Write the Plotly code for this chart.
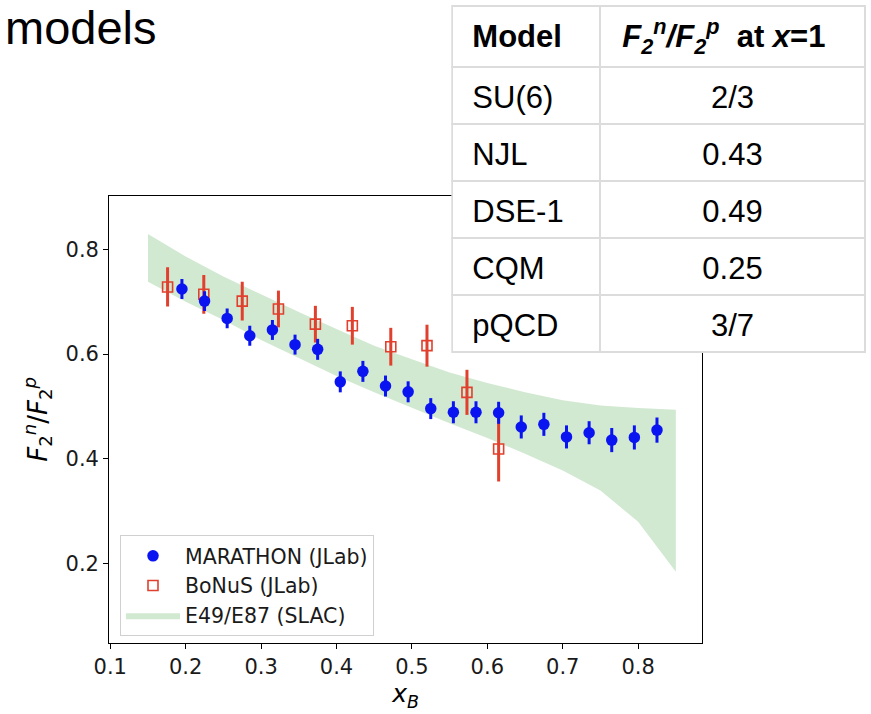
import plotly.graph_objects as go

# ---- data ----
mar_x = [0.195, 0.225, 0.255, 0.285, 0.315, 0.345, 0.375, 0.405, 0.435, 0.465, 0.495,
         0.525, 0.555, 0.585, 0.615, 0.645, 0.675, 0.705, 0.735, 0.765, 0.795, 0.825]
mar_y = [0.724, 0.701, 0.668, 0.635, 0.646, 0.618, 0.609, 0.547, 0.567, 0.539, 0.528,
         0.496, 0.489, 0.489, 0.488, 0.461, 0.466, 0.442, 0.450, 0.436, 0.441, 0.455]
mar_err = [0.019, 0.019, 0.019, 0.019, 0.019, 0.019, 0.02, 0.02, 0.02, 0.02, 0.02,
           0.02, 0.021, 0.021, 0.021, 0.022, 0.022, 0.022, 0.022, 0.023, 0.023, 0.024]

bon_x = [0.176, 0.224, 0.275, 0.323, 0.372, 0.421, 0.472, 0.520, 0.573, 0.615]
bon_y = [0.728, 0.714, 0.701, 0.686, 0.657, 0.654, 0.614, 0.616, 0.527, 0.419]
bon_err = [0.0375, 0.037, 0.037, 0.035, 0.035, 0.036, 0.036, 0.04, 0.043, 0.062]

band_x = [0.15, 0.2, 0.25, 0.3, 0.35, 0.4, 0.45, 0.5, 0.55, 0.6, 0.65, 0.7, 0.75, 0.8, 0.85]
band_top = [0.829, 0.786, 0.748, 0.714, 0.680, 0.648, 0.616, 0.590, 0.565, 0.545, 0.527,
            0.512, 0.502, 0.497, 0.494]
band_bot = [0.738, 0.700, 0.665, 0.627, 0.592, 0.558, 0.527, 0.497, 0.468, 0.440, 0.410,
            0.378, 0.340, 0.280, 0.185]

x_ticks = [0.1, 0.2, 0.3, 0.4, 0.5, 0.6, 0.7, 0.8]
y_ticks = [0.2, 0.4, 0.6, 0.8]

table_models = ["SU(6)", "NJL", "DSE-1", "CQM", "pQCD"]
table_values = ["2/3", "0.43", "0.49", "0.25", "3/7"]
table_header = ["<b>Model</b>",
                "<b><i>F<sub>2</sub><sup>n</sup>/F<sub>2</sub><sup>p</sup></i>\u00a0 at <i>x</i>=1</b>"]

W, H = 871, 714
TFS = 31  # table font size

# invisible superscript spacer: gives every cell the same text box so that
# plotly places the baselines alike (tables have no vertical alignment option)
SP = "<sup>\u00a0</sup>"
SP2 = "<sup>\u00a0\u00a0</sup>"
hdr = [SP2 + table_header[0], table_header[1] + "\u00a0\u00a0"]
col1 = [SP2 + t for t in table_models]
col2 = [SP + t + SP for t in table_values]

fig = go.Figure()

fig.add_trace(go.Scatter(
    x=band_x + band_x[::-1], y=band_top + band_bot[::-1],
    fill="toself", mode="lines", line=dict(width=0),
    fillcolor="rgba(0,128,0,0.18)", name="E49/E87 (SLAC)",
    legendrank=3, legendgroup="c", hoverinfo="skip"))

fig.add_trace(go.Scatter(
    x=bon_x, y=bon_y, mode="markers", name="BoNuS (JLab)",
    marker=dict(symbol="square-open", size=10, color="#e0402d", line=dict(width=1.6, color="#e0402d")),
    error_y=dict(type="data", array=bon_err, thickness=3, width=0, color="#e0402d"),
    legendrank=2, legendgroup="b"))

fig.add_trace(go.Scatter(
    x=mar_x, y=mar_y, mode="markers", name="MARATHON (JLab)",
    marker=dict(symbol="circle", size=11.5, color="#0a14f0"),
    error_y=dict(type="data", array=mar_err, thickness=3, width=0, color="#0a14f0"),
    legendrank=1, legendgroup="a"))

fig.add_trace(go.Table(
    domain=dict(x=[452.3 / W, 866 / W], y=[1 - 365 / H, 1 - 6 / H]),
    columnwidth=[147.7, 266],
    header=dict(values=hdr, align=["left", "center"],
                font=dict(family="Liberation Sans, Arial", size=TFS, color="black"),
                fill_color="white", line=dict(color="#dcdcdc", width=2), height=57.5),
    cells=dict(values=[col1, col2], align=["left", "center"],
               font=dict(family="Liberation Sans, Arial", size=TFS, color="black"),
               fill_color="white", line=dict(color="#dcdcdc", width=2), height=57),
))

tickfont = dict(family="DejaVu Sans", size=21, color="#1a1a1a")
x_dom = [109.3 / W, 702 / W]
y_dom = [(H - 643) / H, (H - 195.7) / H]
fig.update_xaxes(domain=x_dom, range=[0.0987, 0.8847], tickvals=x_ticks,
                 ticktext=[f"{v:.1f}" for v in x_ticks], automargin=False,
                 showline=True, mirror=True, linecolor="black", linewidth=1.3,
                 ticks="outside", ticklen=5, tickwidth=1.3, tickcolor="black",
                 showgrid=False, zeroline=False, tickfont=tickfont,
                 title=dict(text="<i>x</i><sub><i>B</i></sub>",
                            font=dict(family="DejaVu Sans", size=25, color="black"), standoff=6))
fig.update_yaxes(domain=y_dom, range=[0.049, 0.902], tickvals=y_ticks,
                 ticktext=[f"{v:.1f}" for v in y_ticks], automargin=False,
                 showline=True, mirror=True, linecolor="black", linewidth=1.3,
                 ticks="outside", ticklen=5, tickwidth=1.3, tickcolor="black",
                 showgrid=False, zeroline=False, tickfont=tickfont,
                 title=dict(text="<i>F</i><sub>2</sub><sup><i>n</i></sup>/<i>F</i><sub>2</sub><sup><i>p</i></sup>",
                            font=dict(family="DejaVu Sans", size=26, color="black"), standoff=10))

fig.add_annotation(text="models", xref="paper", yref="paper", x=4 / W, y=1,
                   xanchor="left", yanchor="top", showarrow=False, borderpad=0,
                   font=dict(family="Liberation Sans, Arial", size=47, color="black"))

fig.update_layout(
    width=W, height=H,
    margin=dict(l=0, r=0, t=0, b=0),
    paper_bgcolor="white", plot_bgcolor="white",
    showlegend=True,
    legend=dict(x=120 / W, y=1 - 535 / H, xref="paper", yref="paper", xanchor="left", yanchor="top",
                bgcolor="rgba(255,255,255,0.85)", bordercolor="#d0d0d0", borderwidth=1,
                font=dict(family="DejaVu Sans", size=20.5, color="#1a1a1a"),
                itemwidth=54, traceorder="grouped", tracegroupgap=0),
)

fig.write_html("out.html")
